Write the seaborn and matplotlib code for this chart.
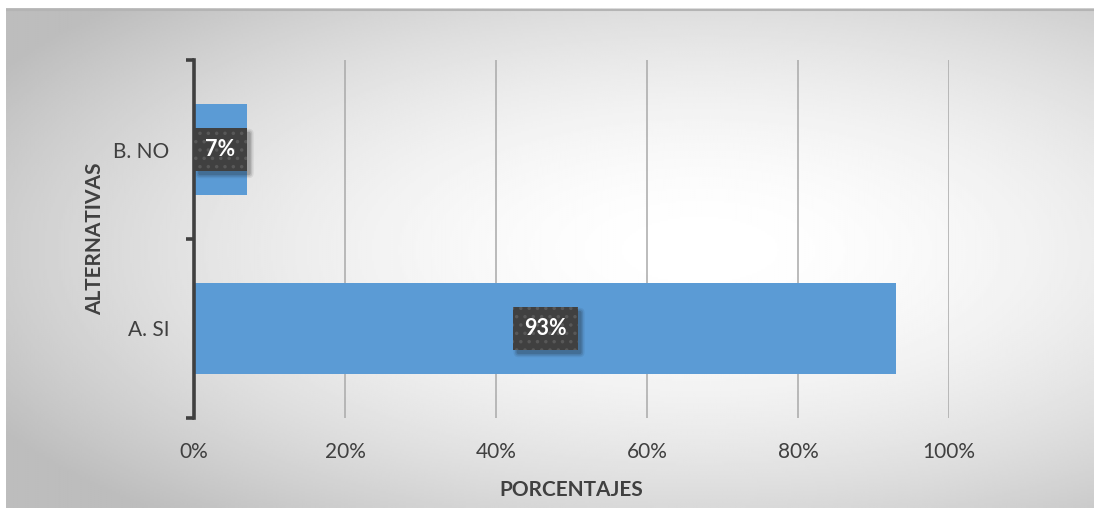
import numpy as np
import pandas as pd
import matplotlib
matplotlib.use("Agg")
import matplotlib.pyplot as plt
from matplotlib.patches import FancyBboxPatch
from matplotlib.ticker import FixedLocator, FuncFormatter
import seaborn as sns

# Survey results
categories = ["B. NO", "A. SI"]
percentages = [7, 93]
x_ticks = [0, 20, 40, 60, 80, 100]
x_label = "PORCENTAJES"
y_label = "ALTERNATIVAS"

sns.set_theme(style="white")
plt.rcParams["font.family"] = ["Lato", "DejaVu Sans"]
plt.rcParams["hatch.linewidth"] = 1.3

W, H = 1094, 508
fig = plt.figure(figsize=(W / 100, H / 100), dpi=100)
fig.patch.set_facecolor("white")

# Radial grey gradient panel behind the chart
bg = fig.add_axes([6 / W, 0, 1 - 6 / W, 1 - 8 / H])
bg.set_axis_off()
nx, ny = 540, 250
xx, yy = np.meshgrid(np.linspace(6, W, nx), np.linspace(8, H, ny))
cx, cy = 700, 250
r = np.sqrt(((xx - cx) / 740) ** 2 + ((yy - cy) / 320) ** 2)
shade = 1 - 0.26 * np.clip(r, 0, 1.25) ** 1.8 / 1.25 ** 0.8
shade = np.clip(shade, 0.74, 1)
bg.imshow(shade, cmap="gray", vmin=0, vmax=1, aspect="auto",
          extent=[0, 1, 0, 1], origin="upper", interpolation="bilinear")
bg.plot([0, 1], [0.997, 0.997], color="#b4b4b4", lw=1.5, transform=bg.transAxes)
bg.set_xlim(0, 1)
bg.set_ylim(0, 1)

ax = fig.add_axes([194 / W, 1 - 418 / H, (949 - 194) / W, (418 - 60) / H])
ax.patch.set_alpha(0)

df = pd.DataFrame({"alt": categories, "pct": percentages})
sns.barplot(data=df, y="alt", x="pct", order=categories, orient="h",
            color="#5b9bd5", saturation=1, width=0.505, linewidth=0,
            ax=ax, zorder=3)

ax.set_xlim(0, 100)
ax.set_ylim(1.5, -0.5)
ax.xaxis.set_major_locator(FixedLocator(x_ticks))
ax.xaxis.set_major_formatter(FuncFormatter(lambda v, p: f"{v:.0f}%"))
ax.grid(axis="x", color="#a9a9a9", lw=1.1, zorder=0)
ax.grid(axis="y", visible=False)
ax.set_axisbelow(True)

for s in ["top", "right", "bottom"]:
    ax.spines[s].set_visible(False)
ax.spines["left"].set_color("#404040")
ax.spines["left"].set_linewidth(2.6)
ax.spines["left"].set_zorder(4)

ax.tick_params(axis="x", length=0, pad=17, labelsize=15, labelcolor="#404040")
ax.tick_params(axis="y", which="major", length=0, pad=17.5, labelsize=15,
               labelcolor="#404040")
ax.yaxis.set_minor_locator(FixedLocator([-0.5, 0.5, 1.5]))
ax.tick_params(axis="y", which="minor", left=True, length=6, width=2.6,
               color="#404040")

ax.set_xlabel(x_label, fontsize=15, fontweight="bold", color="#404040", labelpad=13)
ax.set_ylabel(y_label, fontsize=15, fontweight="bold", color="#404040", labelpad=6)

# Value labels in dark dotted boxes
labels = []
for i, v in enumerate(percentages):
    t = ax.text(v / 2, i, f"{v}%", ha="center", va="center", color="white",
                fontsize=15.5, fontweight="bold", zorder=6,
                bbox=dict(boxstyle="square,pad=0.52", facecolor="#404040",
                          edgecolor="#585858", linewidth=0, hatch=".."))
    labels.append(t)

# Soft drop shadow beneath each label box (layered translucent boxes)
fig.canvas.draw()
for t in labels:
    ext = t.get_bbox_patch().get_window_extent()
    for grow, a in [(3, 0.08), (1.5, 0.12), (0, 0.18)]:
        sh = FancyBboxPatch((ext.x0 + 4 - grow, ext.y0 - 4 - grow),
                            ext.width + 2 * grow, ext.height + 2 * grow,
                            boxstyle=f"round,pad=0,rounding_size={2 + grow}",
                            transform=None, facecolor="#1a1a1a",
                            edgecolor="none", alpha=a, zorder=5)
        ax.add_artist(sh)

fig.savefig("out.png", dpi=100, facecolor=fig.get_facecolor())
